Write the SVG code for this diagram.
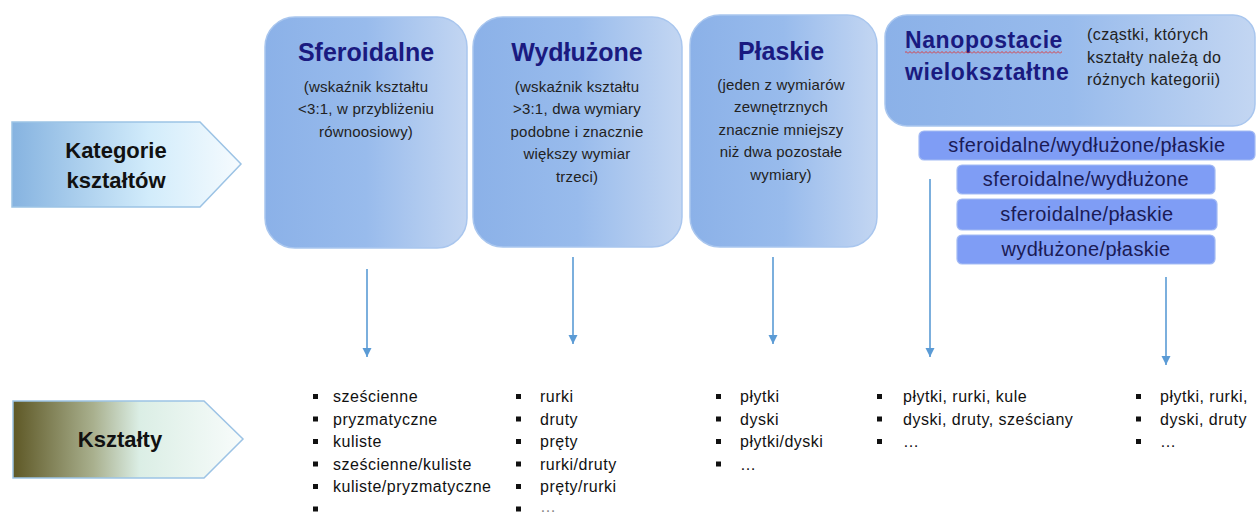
<svg xmlns="http://www.w3.org/2000/svg" width="1258" height="514" viewBox="0 0 1258 514">
<defs>
<linearGradient id="gBox" x1="0" y1="0" x2="1" y2="0">
<stop offset="0" stop-color="#8bb1e8"/>
<stop offset="0.5" stop-color="#98bbec"/>
<stop offset="1" stop-color="#c3d6f2"/>
</linearGradient>
<linearGradient id="gKat" x1="0" y1="0" x2="1" y2="0">
<stop offset="0" stop-color="#86b3e0"/>
<stop offset="0.6" stop-color="#d2ecfb"/>
<stop offset="1" stop-color="#f6fbfe"/>
</linearGradient>
<linearGradient id="gKsz" x1="0" y1="0" x2="1" y2="0">
<stop offset="0" stop-color="#5e5826"/>
<stop offset="0.35" stop-color="#a9b08e"/>
<stop offset="0.55" stop-color="#dbeee5"/>
<stop offset="1" stop-color="#f8fcfb"/>
</linearGradient>
<pattern id="squig" x="0" y="0" width="4" height="3" patternUnits="userSpaceOnUse">
<path d="M0,2.5 L2,0.5 L4,2.5" fill="none" stroke="#e03030" stroke-width="0.9"/>
</pattern>
<marker id="ah" markerWidth="10" markerHeight="10" refX="9" refY="5" orient="auto" markerUnits="userSpaceOnUse">
<path d="M0,0.5 L9,5 L0,9.5 z" fill="#5b9bd5"/>
</marker>
</defs>
<style>
.box{fill:url(#gBox);stroke:#a9c6ee;stroke-width:1.5}
.ttl{font-family:"Liberation Sans",Arial,sans-serif;font-weight:bold;font-size:25px;fill:#1a1a80;text-anchor:middle}
.dsc{font-family:"Liberation Sans",Arial,sans-serif;font-size:15px;fill:#222;text-anchor:middle;letter-spacing:0.2px}
.sub{fill:#7f9df5;stroke:#a4bbf3;stroke-width:1.2}
.subt{font-family:"Liberation Sans",Arial,sans-serif;font-size:20px;fill:#1b1b55;text-anchor:middle;letter-spacing:0.4px}
.lbl{font-family:"Liberation Sans",Arial,sans-serif;font-weight:bold;font-size:22px;fill:#111;text-anchor:middle}
.li{font-family:"Liberation Sans",Arial,sans-serif;font-size:16px;fill:#111;letter-spacing:0.5px}
.bul{fill:#111}
.conn{stroke:#5b9bd5;stroke-width:1.6;fill:none;marker-end:url(#ah)}
.pent{stroke:#9cc3e5;stroke-width:1.5}
</style>

<g id="kategorie">
<polygon class="pent" points="12,122 200,122 241,164 200,207 12,207" fill="url(#gKat)"/>
<text class="lbl" x="116" y="158">Kategorie</text>
<text class="lbl" x="116" y="188">kształtów</text>
</g>

<g id="ksztalty">
<polygon class="pent" points="13,401 204,401 243,439 204,478 13,478" fill="url(#gKsz)"/>
<text class="lbl" x="120" y="447">Kształty</text>
</g>

<g id="sferoidalne">
<rect class="box" x="265" y="17" width="202" height="231" rx="30"/>
<text class="ttl" x="366" y="61">Sferoidalne</text>
<text class="dsc" x="366" y="92">(wskaźnik kształtu</text>
<text class="dsc" x="366" y="114">&lt;3:1, w przybliżeniu</text>
<text class="dsc" x="366" y="137">równoosiowy)</text>
</g>

<g id="wydluzone">
<rect class="box" x="473" y="17" width="209" height="230" rx="30"/>
<text class="ttl" x="577" y="61">Wydłużone</text>
<text class="dsc" x="577" y="92">(wskaźnik kształtu</text>
<text class="dsc" x="577" y="114">&gt;3:1, dwa wymiary</text>
<text class="dsc" x="577" y="137">podobne i znacznie</text>
<text class="dsc" x="577" y="159">większy wymiar</text>
<text class="dsc" x="577" y="182">trzeci)</text>
</g>

<g id="plaskie">
<rect class="box" x="690" y="15" width="187" height="232" rx="30"/>
<text class="ttl" x="781" y="60">Płaskie</text>
<text class="dsc" x="781" y="90">(jeden z wymiarów</text>
<text class="dsc" x="781" y="112">zewnętrznych</text>
<text class="dsc" x="781" y="135">znacznie mniejszy</text>
<text class="dsc" x="781" y="157">niż dwa pozostałe</text>
<text class="dsc" x="781" y="180">wymiary)</text>
</g>

<g id="nanopostacie">
<rect class="box" x="885" y="15" width="370" height="111" rx="22"/>
<text class="ttl" x="905" y="48" style="text-anchor:start;font-size:23px;letter-spacing:0.6px">Nanopostacie</text>
<rect x="905" y="51" width="157" height="3" fill="url(#squig)"/>
<text class="ttl" x="905" y="80" style="text-anchor:start;font-size:23px;letter-spacing:0.6px">wielokształtne</text>
<text class="dsc" x="1087" y="40" style="text-anchor:start;font-size:16px;letter-spacing:0.4px">(cząstki, których</text>
<text class="dsc" x="1087" y="63" style="text-anchor:start;font-size:16px;letter-spacing:0.4px">kształty należą do</text>
<text class="dsc" x="1087" y="85" style="text-anchor:start;font-size:16px;letter-spacing:0.4px">różnych kategorii)</text>
</g>

<g id="sub1">
<rect class="sub" x="919" y="131" width="336" height="29" rx="5"/>
<text class="subt" x="1087" y="152">sferoidalne/wydłużone/płaskie</text>
</g>
<g id="sub2">
<rect class="sub" x="957" y="165" width="258" height="29" rx="5"/>
<text class="subt" x="1086" y="186">sferoidalne/wydłużone</text>
</g>
<g id="sub3">
<rect class="sub" x="957" y="199" width="260" height="31" rx="5"/>
<text class="subt" x="1087" y="221">sferoidalne/płaskie</text>
</g>
<g id="sub4">
<rect class="sub" x="957" y="235" width="258" height="29" rx="5"/>
<text class="subt" x="1086" y="256">wydłużone/płaskie</text>
</g>

<g id="connectors">
<line class="conn" x1="367" y1="269" x2="367" y2="357"/>
<line class="conn" x1="573" y1="257" x2="573" y2="344"/>
<line class="conn" x1="773" y1="257" x2="773" y2="344"/>
<line class="conn" x1="930" y1="179" x2="930" y2="357"/>
<line class="conn" x1="1166" y1="277" x2="1166" y2="365"/>
</g>

<g id="lista-sferoidalne">
<rect class="bul" x="313" y="394" width="5" height="5"/>
<rect class="bul" x="313" y="416.5" width="5" height="5"/>
<rect class="bul" x="313" y="439" width="5" height="5"/>
<rect class="bul" x="313" y="461.5" width="5" height="5"/>
<rect class="bul" x="313" y="484" width="5" height="5"/>
<rect class="bul" x="313" y="506.5" width="5" height="5"/>
<text class="li" x="333" y="402">sześcienne</text>
<text class="li" x="333" y="424.5">pryzmatyczne</text>
<text class="li" x="333" y="447">kuliste</text>
<text class="li" x="333" y="469.5">sześcienne/kuliste</text>
<text class="li" x="333" y="492">kuliste/pryzmatyczne</text>
</g>

<g id="lista-wydluzone">
<rect class="bul" x="516" y="394" width="5" height="5"/>
<rect class="bul" x="516" y="416.5" width="5" height="5"/>
<rect class="bul" x="516" y="439" width="5" height="5"/>
<rect class="bul" x="516" y="461.5" width="5" height="5"/>
<rect class="bul" x="516" y="484" width="5" height="5"/>
<rect class="bul" x="516" y="506.5" width="5" height="5"/>
<text class="li" x="540" y="402">rurki</text>
<text class="li" x="540" y="424.5">druty</text>
<text class="li" x="540" y="447">pręty</text>
<text class="li" x="540" y="469.5">rurki/druty</text>
<text class="li" x="540" y="492">pręty/rurki</text>
<text class="li" x="540" y="512" style="fill:#888">…</text>
</g>

<g id="lista-plaskie">
<rect class="bul" x="716" y="394" width="5" height="5"/>
<rect class="bul" x="716" y="416.5" width="5" height="5"/>
<rect class="bul" x="716" y="439" width="5" height="5"/>
<rect class="bul" x="716" y="461.5" width="5" height="5"/>
<text class="li" x="740" y="402">płytki</text>
<text class="li" x="740" y="424.5">dyski</text>
<text class="li" x="740" y="447">płytki/dyski</text>
<text class="li" x="740" y="469.5">…</text>
</g>

<g id="lista-nano1">
<rect class="bul" x="877" y="394" width="5" height="5"/>
<rect class="bul" x="877" y="416.5" width="5" height="5"/>
<rect class="bul" x="877" y="439" width="5" height="5"/>
<text class="li" x="903" y="402">płytki, rurki, kule</text>
<text class="li" x="903" y="424.5">dyski, druty, sześciany</text>
<text class="li" x="903" y="447">…</text>
</g>

<g id="lista-nano2">
<rect class="bul" x="1136" y="394" width="5" height="5"/>
<rect class="bul" x="1136" y="416.5" width="5" height="5"/>
<rect class="bul" x="1136" y="439" width="5" height="5"/>
<text class="li" x="1160" y="402">płytki, rurki,</text>
<text class="li" x="1160" y="424.5">dyski, druty</text>
<text class="li" x="1160" y="447">…</text>
</g>
</svg>
